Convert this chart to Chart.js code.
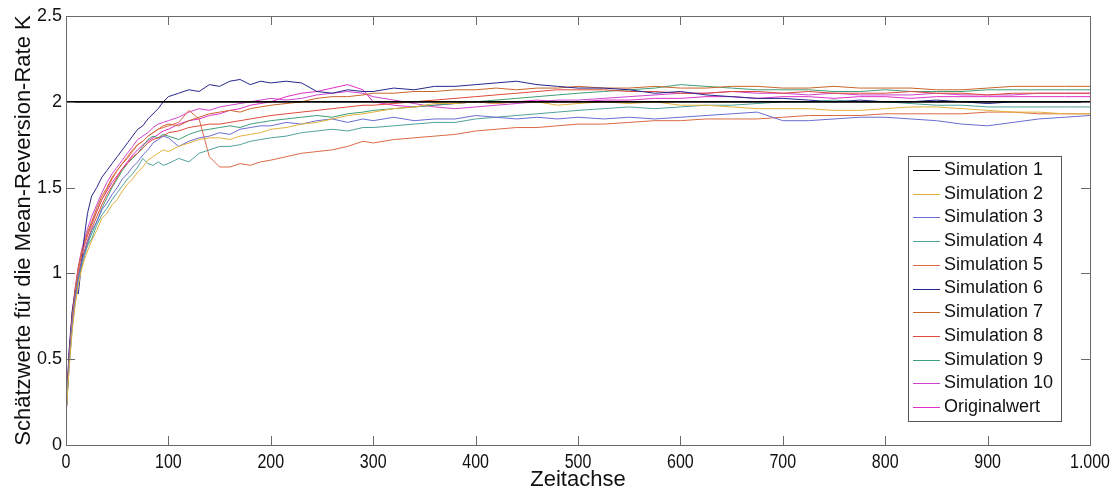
<!DOCTYPE html>
<html>
<head>
<meta charset="utf-8">
<script src="https://cdn.jsdelivr.net/npm/chart.js@4.4.1/dist/chart.umd.min.js"></script>
<style>
  html, body { margin: 0; padding: 0; background: #fff; }
  #wrap { width: 1115px; height: 493px; position: relative; }
</style>
</head>
<body>
<div id="wrap"><canvas id="chart"></canvas></div>
<script>
const zeitpunkte = [
  0, 3, 6, 9, 12, 15, 18, 21, 25, 30, 35, 40, 45, 50, 55, 60, 65, 70, 75, 80, 85, 90, 95, 100,
  110, 120, 130, 140, 150, 160, 170, 180, 190, 200,
  215, 230, 245, 260, 275, 290, 300,
  320, 340, 360, 380, 400, 420, 440, 460, 480, 500,
  525, 550, 575, 600, 625, 650, 675, 700, 725, 750, 775, 800, 825, 850, 875, 900, 925, 950, 975, 1000
];

// wahrer Wert K = 2 (schwarze Linie)
const sim1Zeit = [0, 1000];
const sim1 = [2, 2];

const sim2 = [
  0.17, 0.44, 0.66, 0.82, 0.93, 1.02, 1.08, 1.13, 1.19, 1.25, 1.32, 1.35, 1.40, 1.43, 1.48, 1.52, 1.55, 1.59, 1.62, 1.66, 1.68, 1.70, 1.72, 1.71,
  1.74, 1.76, 1.78, 1.79, 1.79, 1.78, 1.80, 1.81, 1.82, 1.84,
  1.85, 1.87, 1.88, 1.90, 1.92, 1.93, 1.94,
  1.96, 1.97, 1.99, 1.99, 2.00, 1.99, 2.00, 2.00, 1.98, 1.99,
  2.00, 1.99, 2.00, 1.98, 1.98, 1.97, 1.96, 1.96, 1.96, 1.95, 1.95, 1.96, 1.97, 1.97, 1.96, 1.95, 1.94, 1.94, 1.93, 1.93
];
const sim3 = [
  0.17, 0.48, 0.70, 0.86, 0.98, 1.06, 1.12, 1.18, 1.25, 1.30, 1.37, 1.41, 1.46, 1.50, 1.55, 1.58, 1.62, 1.65, 1.69, 1.72, 1.76, 1.78, 1.80, 1.79,
  1.74, 1.77, 1.79, 1.80, 1.82, 1.81, 1.84, 1.85, 1.86, 1.86,
  1.88, 1.87, 1.89, 1.90, 1.88, 1.90, 1.89,
  1.91, 1.89, 1.90, 1.90, 1.92, 1.91, 1.90, 1.91, 1.90, 1.91,
  1.90, 1.91, 1.90, 1.91, 1.92, 1.93, 1.94, 1.89, 1.89, 1.90, 1.91, 1.91, 1.90, 1.89, 1.87, 1.86, 1.88, 1.90, 1.91, 1.92
];
const sim4 = [
  0.17, 0.45, 0.68, 0.83, 0.95, 1.03, 1.10, 1.16, 1.20, 1.28, 1.34, 1.38, 1.43, 1.47, 1.51, 1.55, 1.58, 1.62, 1.67, 1.64, 1.63, 1.65, 1.63, 1.64,
  1.67, 1.65, 1.70, 1.72, 1.74, 1.74, 1.75, 1.77, 1.78, 1.79,
  1.80, 1.82, 1.83, 1.84, 1.83, 1.85, 1.85,
  1.86, 1.87, 1.88, 1.88, 1.90, 1.91, 1.92, 1.93, 1.94, 1.95,
  1.96, 1.97, 1.96, 1.97, 1.98, 1.98, 1.99, 2.00, 2.00, 2.01, 2.00, 2.00, 1.99, 1.98, 1.98, 1.97, 1.97, 1.97, 1.97, 1.97
];
const sim5 = [
  0.17, 0.50, 0.74, 0.90, 1.02, 1.10, 1.17, 1.22, 1.28, 1.36, 1.43, 1.49, 1.55, 1.60, 1.64, 1.67, 1.71, 1.75, 1.77, 1.80, 1.82, 1.84, 1.85, 1.86,
  1.88, 1.95, 1.90, 1.68, 1.62, 1.62, 1.64, 1.63, 1.65, 1.66,
  1.68, 1.70, 1.71, 1.72, 1.74, 1.77, 1.76,
  1.78, 1.79, 1.80, 1.81, 1.83, 1.84, 1.85, 1.85, 1.86, 1.87,
  1.87, 1.88, 1.89, 1.89, 1.90, 1.90, 1.90, 1.91, 1.92, 1.92, 1.92, 1.93, 1.93, 1.93, 1.93, 1.94, 1.94, 1.93, 1.93, 1.93
];
const sim6 = [
  0.17, 0.55, 0.78, 0.90, 0.88, 1.05, 1.22, 1.35, 1.45, 1.50, 1.56, 1.60, 1.64, 1.68, 1.72, 1.76, 1.80, 1.84, 1.86, 1.90, 1.93, 1.96, 2.00, 2.03,
  2.05, 2.07, 2.06, 2.10, 2.09, 2.12, 2.13, 2.10, 2.12, 2.11,
  2.12, 2.11, 2.06, 2.05, 2.07, 2.06, 2.06,
  2.08, 2.07, 2.09, 2.09, 2.10, 2.11, 2.12, 2.10, 2.09, 2.08,
  2.08, 2.07, 2.05, 2.06, 2.04, 2.03, 2.02, 2.02, 2.01, 2.00, 2.01, 2.00, 2.00, 2.01, 2.00, 1.99, 2.00, 2.00, 2.00, 2.00
];
const sim7 = [
  0.17, 0.52, 0.75, 0.91, 1.03, 1.12, 1.18, 1.24, 1.30, 1.38, 1.45, 1.50, 1.56, 1.60, 1.64, 1.68, 1.72, 1.75, 1.77, 1.80, 1.82, 1.84, 1.86, 1.87,
  1.86, 1.89, 1.91, 1.93, 1.94, 1.95, 1.94, 1.96, 1.97, 1.98,
  1.99, 2.00, 2.02, 2.03, 2.03, 2.04, 2.05,
  2.05, 2.06, 2.06, 2.07, 2.07, 2.08, 2.07, 2.08, 2.08, 2.09,
  2.08, 2.08, 2.09, 2.08, 2.08, 2.09, 2.09, 2.08, 2.08, 2.09, 2.08, 2.08, 2.08, 2.07, 2.07, 2.08, 2.09, 2.09, 2.09, 2.09
];
const sim8 = [
  0.17, 0.49, 0.72, 0.87, 0.99, 1.07, 1.13, 1.19, 1.26, 1.33, 1.40, 1.46, 1.51, 1.56, 1.61, 1.64, 1.68, 1.70, 1.73, 1.76, 1.78, 1.79, 1.80, 1.82,
  1.83, 1.85, 1.86, 1.87, 1.87, 1.88, 1.89, 1.90, 1.91, 1.92,
  1.93, 1.94, 1.95, 1.96, 1.97, 1.98, 1.98,
  1.99, 2.00, 2.01, 2.02, 2.03, 2.04, 2.05, 2.06, 2.07, 2.07,
  2.07, 2.06, 2.06, 2.05, 2.05, 2.06, 2.06, 2.05, 2.06, 2.05, 2.05, 2.05, 2.06, 2.05, 2.05, 2.04, 2.05, 2.05, 2.05, 2.05
];
const sim9 = [
  0.17, 0.47, 0.70, 0.85, 0.97, 1.06, 1.12, 1.17, 1.23, 1.30, 1.38, 1.44, 1.50, 1.55, 1.60, 1.64, 1.67, 1.70, 1.74, 1.78, 1.80, 1.79, 1.81, 1.80,
  1.78, 1.81, 1.83, 1.84, 1.85, 1.86, 1.85, 1.87, 1.88, 1.89,
  1.90, 1.91, 1.92, 1.91, 1.93, 1.94, 1.95,
  1.96, 1.97, 1.98, 1.99, 2.00, 2.01, 2.02, 2.03, 2.04, 2.05,
  2.06, 2.07, 2.08, 2.10, 2.09, 2.08, 2.07, 2.07, 2.07, 2.06, 2.06, 2.07, 2.06, 2.06, 2.06, 2.07, 2.07, 2.07, 2.07, 2.07
];
const sim10 = [
  0.17, 0.53, 0.76, 0.92, 1.04, 1.13, 1.20, 1.26, 1.33, 1.40, 1.47, 1.53, 1.58, 1.62, 1.66, 1.70, 1.74, 1.78, 1.80, 1.82, 1.85, 1.87, 1.88, 1.89,
  1.91, 1.94, 1.96, 1.95, 1.97, 1.98, 1.99, 2.00, 2.01, 2.02,
  2.01, 2.02, 2.04, 2.05, 2.06, 2.05, 2.03,
  2.01, 1.99, 1.97, 1.96, 1.97, 1.98, 1.99, 2.00, 2.01, 2.01,
  2.02, 2.03, 2.04, 2.05, 2.05, 2.06, 2.05, 2.05, 2.04, 2.05, 2.04, 2.04, 2.04, 2.05, 2.04, 2.04, 2.04, 2.05, 2.05, 2.05
];
const originalwert = [
  0.17, 0.51, 0.74, 0.90, 1.02, 1.10, 1.16, 1.22, 1.29, 1.36, 1.43, 1.48, 1.53, 1.57, 1.61, 1.65, 1.69, 1.72, 1.75, 1.77, 1.79, 1.81, 1.83, 1.84,
  1.87, 1.89, 1.90, 1.92, 1.93, 1.95, 1.96, 1.98, 1.99, 2.00,
  2.03, 2.05, 2.06, 2.08, 2.10, 2.07, 2.00,
  1.98, 1.97, 1.98, 1.99, 2.00, 1.99, 2.00, 2.01, 2.00, 2.00,
  2.01, 2.01, 2.02, 2.02, 2.03, 2.03, 2.02, 2.03, 2.03, 2.02, 2.03, 2.03, 2.02, 2.03, 2.03, 2.03, 2.03, 2.03, 2.03, 2.03
];

const namen = ["Simulation 1", "Simulation 2", "Simulation 3", "Simulation 4", "Simulation 5",
  "Simulation 6", "Simulation 7", "Simulation 8", "Simulation 9", "Simulation 10", "Originalwert"];
const farben = ["#000000", "#e3b23c", "#6c6cd2", "#4fa39a", "#dc6a46", "#25268c",
  "#c8662a", "#e04a3a", "#3f9f78", "#cc44cc", "#e030c8"];

const xTicks = [0, 100, 200, 300, 400, 500, 600, 700, 800, 900, 1000];
const xTickLabels = ["0", "100", "200", "300", "400", "500", "600", "700", "800", "900", "1.000"];
const yTicks = [0, 0.5, 1, 1.5, 2, 2.5];

const pfade = [sim2, sim3, sim4, sim5, sim6, sim7, sim8, sim9, sim10, originalwert];

function punkte(zeit, werte) {
  return werte.map((v, i) => ({ x: zeit[i], y: v }));
}

const datasets = [{
  label: namen[0],
  data: punkte(sim1Zeit, sim1),
  borderColor: farben[0],
  borderWidth: 1.8,
  pointRadius: 0,
}].concat(pfade.map((werte, i) => ({
  label: namen[i + 1],
  data: punkte(zeitpunkte, werte),
  borderColor: farben[i + 1],
  borderWidth: 1,
  pointRadius: 0,
})));

// MATLAB-artiger Rahmen mit Ticks nach innen auf allen vier Seiten
const achsenRahmen = {
  id: "achsenRahmen",
  afterDatasetsDraw(chart) {
    const { ctx, chartArea: a, scales } = chart;
    const len = 9;
    ctx.save();
    ctx.strokeStyle = "#6a6a6a";
    ctx.lineWidth = 1;
    ctx.strokeRect(a.left + 0.5, a.top + 0.5, a.right - a.left, a.bottom - a.top);
    ctx.beginPath();
    xTicks.forEach(v => {
      const px = Math.round(scales.x.getPixelForValue(v)) + 0.5;
      ctx.moveTo(px, a.bottom); ctx.lineTo(px, a.bottom - len);
      ctx.moveTo(px, a.top); ctx.lineTo(px, a.top + len);
    });
    yTicks.forEach(v => {
      const py = Math.round(scales.y.getPixelForValue(v)) + 0.5;
      ctx.moveTo(a.left, py); ctx.lineTo(a.left + len, py);
      ctx.moveTo(a.right, py); ctx.lineTo(a.right - len, py);
    });
    ctx.stroke();

    // schmale Beschriftung der Zeitachse
    ctx.fillStyle = "#111";
    ctx.font = "20px 'Liberation Sans', Arial, sans-serif";
    ctx.textAlign = "center";
    ctx.textBaseline = "middle";
    const squeeze = 0.8;
    xTicks.forEach((v, i) => {
      const px = scales.x.getPixelForValue(v);
      ctx.save();
      ctx.translate(px, a.bottom + 17);
      ctx.scale(squeeze, 1);
      ctx.fillText(xTickLabels[i], 0, 0);
      ctx.restore();
    });
    ctx.restore();
  }
};

// Legende im Plotbereich rechts
const legendeBox = {
  id: "legendeBox",
  afterDraw(chart) {
    const { ctx, chartArea: a } = chart;
    const x0 = a.right - 182, y0 = 156, w = 153, h = 265, step = 23.7;
    ctx.save();
    ctx.fillStyle = "#fff";
    ctx.fillRect(x0, y0, w, h);
    ctx.strokeStyle = "#555";
    ctx.lineWidth = 1;
    ctx.strokeRect(x0 + 0.5, y0 + 0.5, w, h);
    ctx.font = "18px 'Liberation Sans', Arial, sans-serif";
    ctx.textBaseline = "middle";
    chart.data.datasets.forEach((ds, i) => {
      const y = y0 + 14 + i * step;
      ctx.strokeStyle = ds.borderColor;
      ctx.beginPath();
      ctx.moveTo(x0 + 5, Math.round(y) + 0.5);
      ctx.lineTo(x0 + 32, Math.round(y) + 0.5);
      ctx.stroke();
      ctx.fillStyle = "#111";
      ctx.fillText(ds.label, x0 + 36, y);
    });
    ctx.restore();
  }
};

new Chart(document.getElementById("chart"), {
  type: "line",
  data: { datasets },
  plugins: [achsenRahmen, legendeBox],
  options: {
    responsive: true,
    maintainAspectRatio: false,
    animation: false,
    layout: { padding: { left: 0, top: 16, right: 25, bottom: 0 } },
    plugins: { legend: { display: false }, tooltip: { enabled: false } },
    elements: { line: { tension: 0 } },
    scales: {
      x: {
        type: "linear",
        min: 0, max: 1000,
        afterFit(s) { s.height = 48; },
        afterBuildTicks(s) { s.ticks = xTicks.map(v => ({ value: v })); },
        grid: { display: false, drawTicks: false },
        border: { display: false },
        ticks: { display: false },
        title: {
          display: true,
          text: "Zeitachse",
          color: "#111",
          font: { family: "'Liberation Sans', Arial, sans-serif", size: 22 },
          padding: { top: 0, bottom: 0 },
        },
      },
      y: {
        min: 0, max: 2.5,
        afterFit(s) { s.width = 66; },
        afterBuildTicks(s) { s.ticks = yTicks.map(v => ({ value: v })); },
        grid: { display: false, drawTicks: false },
        border: { display: false },
        ticks: {
          padding: 4,
          color: "#111",
          font: { family: "'Liberation Sans', Arial, sans-serif", size: 18 },
          callback: v => String(v),
        },
        title: {
          display: true,
          text: "Schätzwerte für die Mean-Reversion-Rate K",
          color: "#111",
          font: { family: "'Liberation Sans', Arial, sans-serif", size: 22 },
          padding: { top: 11, bottom: 0 },
        },
      },
    },
  },
});
</script>
</body>
</html>
